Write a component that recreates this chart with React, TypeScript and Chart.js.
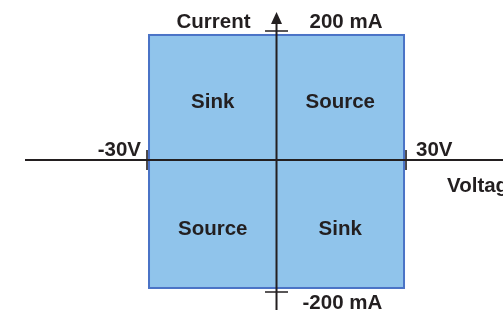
import React, { useEffect, useRef } from "react";
import { Chart, registerables } from "chart.js";

Chart.register(...registerables);

// Data
const voltageLimits = [-30, 30];
const currentLimits = [-200, 200];
const voltageTickLabels = ["-30V", "30V"];
const currentTickLabels = ["-200 mA", "200 mA"];
const axisTitles = ["Voltage", "Current"];
const quadrantLabels = ["Sink", "Source", "Source", "Sink"];
const quadrantVoltage = [-15, 15, -15, 15];
const quadrantCurrent = [96, 96, -105, -105];

const FILL = "#90c4eb";
const BORDER = "#4a73c6";
const INK = "#231f20";
const FONT = "bold 20.5px 'Liberation Sans', Arial, sans-serif";

const quadrantPlugin = {
  id: "quadrant",
  beforeDatasetsDraw(chart: any) {
    const ctx = chart.ctx;
    const xs = chart.scales.x;
    const ys = chart.scales.y;
    const x0 = xs.getPixelForValue(voltageLimits[0]);
    const x1 = xs.getPixelForValue(voltageLimits[1]);
    const y0 = ys.getPixelForValue(currentLimits[1]);
    const y1 = ys.getPixelForValue(currentLimits[0]);
    const cx = xs.getPixelForValue(0);
    const cy = ys.getPixelForValue(0) - 1.5;
    const { left, right, bottom } = chart.chartArea;
    ctx.save();
    // rectangle
    ctx.fillStyle = FILL;
    ctx.fillRect(x0, y0, x1 - x0, y1 - y0);
    ctx.strokeStyle = BORDER;
    ctx.lineWidth = 2;
    ctx.strokeRect(x0, y0, x1 - x0, y1 - y0);

    // axes
    ctx.strokeStyle = INK;
    ctx.lineWidth = 2;
    ctx.beginPath();
    ctx.moveTo(left + 25, cy);
    ctx.lineTo(right, cy);
    ctx.moveTo(cx, 20);
    ctx.lineTo(cx, bottom);
    ctx.stroke();
    // arrow
    ctx.fillStyle = INK;
    ctx.beginPath();
    ctx.moveTo(cx, 12);
    ctx.lineTo(cx - 5.5, 24);
    ctx.lineTo(cx + 5.5, 24);
    ctx.closePath();
    ctx.fill();

    // ticks
    ctx.lineWidth = 1.6;
    ctx.beginPath();
    ctx.moveTo(x0 - 2, cy - 10);
    ctx.lineTo(x0 - 2, cy + 10);
    ctx.moveTo(x1 + 2, cy - 10);
    ctx.lineTo(x1 + 2, cy + 10);
    ctx.moveTo(cx - 11.5, y0 - 4);
    ctx.lineTo(cx + 11.5, y0 - 4);
    ctx.moveTo(cx - 11.5, y1 + 4);
    ctx.lineTo(cx + 11.5, y1 + 4);
    ctx.stroke();

    // texts
    ctx.fillStyle = INK;
    ctx.font = FONT;
    ctx.textBaseline = "alphabetic";
    ctx.textAlign = "right";
    ctx.fillText(voltageTickLabels[0], x0 - 8, cy - 4);
    ctx.fillText(axisTitles[1], cx - 26, 28);
    ctx.textAlign = "left";
    ctx.fillText(voltageTickLabels[1], x1 + 12, cy - 4);
    ctx.fillText(axisTitles[0], x1 + 43, cy + 32);
    ctx.fillText(currentTickLabels[1], cx + 33, 28);
    ctx.fillText(currentTickLabels[0], cx + 26, 309);
    ctx.textAlign = "center";
    for (let i = 0; i < quadrantLabels.length; i++) {
      const px = xs.getPixelForValue(quadrantVoltage[i]);
      const py = ys.getPixelForValue(quadrantCurrent[i]);
      ctx.fillText(quadrantLabels[i], px, py + 7);
    }
    ctx.restore();
  },
};

export default function App() {
  const ref = useRef<HTMLCanvasElement | null>(null);
  useEffect(() => {
    if (!ref.current) return;
    const chart = new Chart(ref.current, {
      type: "scatter",
      data: { datasets: [{ data: [], pointRadius: 0 }] },
      options: {
        animation: false,
        responsive: false,
        events: [],
        layout: { padding: 0 },
        plugins: { legend: { display: false }, tooltip: { enabled: false } },
        scales: {
          x: { type: "linear", display: false, min: -65.06, max: 53.29 },
          y: { type: "linear", display: false, min: -234.8, max: 255.3 },
        },
      },
      plugins: [quadrantPlugin],
    });
    return () => chart.destroy();
  }, []);
  return (
    <div style={{ position: "fixed", left: 0, top: 0, width: 503, height: 310, background: "#fff" }}>
      <canvas ref={ref} width={503} height={310} style={{ display: "block" }} />
    </div>
  );
}
